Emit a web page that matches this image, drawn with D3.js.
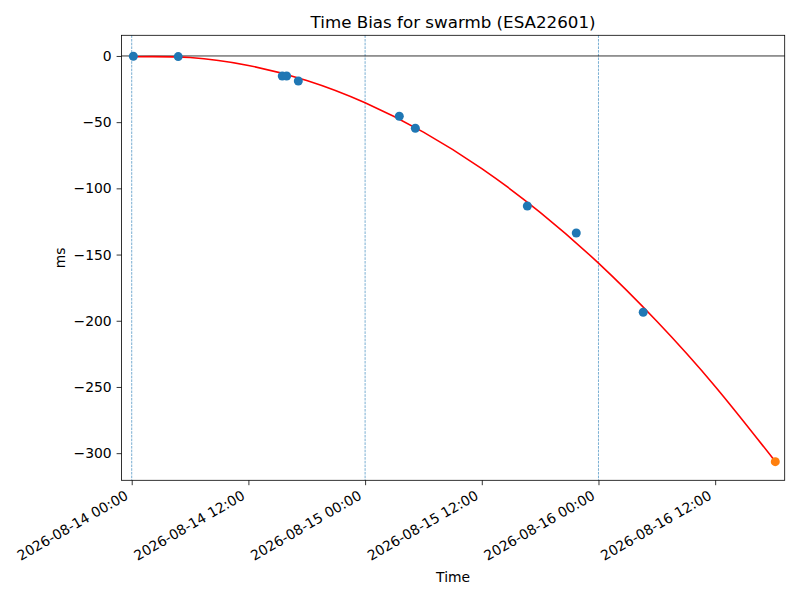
<!DOCTYPE html>
<html><head><meta charset="utf-8">
<script src="https://cdn.jsdelivr.net/npm/d3@7"></script>
<style>body{margin:0;background:#fff}svg{display:block;font-family:"DejaVu Sans",sans-serif}</style>
</head><body><svg id="c" width="800" height="600"></svg>
<script>
const title = "Time Bias for swarmb (ESA22601)";
const obsTimes = ["2026-08-14T00:10Z","2026-08-14T04:47Z","2026-08-14T15:29Z","2026-08-14T15:56Z","2026-08-14T17:08Z",
  "2026-08-15T03:31Z","2026-08-15T05:10Z","2026-08-15T16:41Z","2026-08-15T21:43Z","2026-08-16T04:36Z"];
const obsValues = [-0.2,-0.5,-15.1,-15.1,-18.9,-45.5,-54.6,-113.3,-133.7,-193.6];
const predTimes = ["2026-08-16T18:11Z"];
const predValues = [-306.4];
const fitTimes = ["2026-08-14T00:10Z","2026-08-14T06:00Z","2026-08-14T12:00Z","2026-08-14T18:00Z","2026-08-15T00:00Z",
  "2026-08-15T06:00Z","2026-08-15T12:00Z","2026-08-15T18:00Z","2026-08-16T00:00Z","2026-08-16T06:00Z","2026-08-16T12:00Z","2026-08-16T18:11Z"];
const fitValues = [-0.6,-1.2,-7.2,-18.5,-35.3,-57.5,-85.1,-118.1,-156.5,-200.4,-249.6,-306.3];
const dayLines = ["2026-08-14T00:00Z","2026-08-15T00:00Z","2026-08-16T00:00Z"];
const xTicks = ["2026-08-14T00:00Z","2026-08-14T12:00Z","2026-08-15T00:00Z","2026-08-15T12:00Z","2026-08-16T00:00Z","2026-08-16T12:00Z"];
const yTicks = [0,-50,-100,-150,-200,-250,-300];
const xDomain = ["2026-08-13T22:57Z","2026-08-16T19:09Z"];
const yDomain = [-320.5, 15.6];

const P = d3.isoParse;
const L=121.5, R=784.7, T=35.3, B=480.3;
const svg = d3.select("#c");
const x = d3.scaleUtc().domain(xDomain.map(P)).range([L,R]);
const y = d3.scaleLinear().domain(yDomain).range([B,T]);
const fmt = d3.utcFormat("%Y-%m-%d %H:%M");
const blue="#1f77b4", orange="#ff7f0e";

// day lines
svg.append("g").selectAll("line").data(dayLines).join("line")
  .attr("x1",d=>x(P(d))).attr("x2",d=>x(P(d))).attr("y1",T).attr("y2",B)
  .attr("stroke",blue).attr("stroke-width",0.6).attr("stroke-dasharray","2.6,1.1");
// zero line
svg.append("line").attr("x1",L).attr("x2",R).attr("y1",y(0)).attr("y2",y(0))
  .attr("stroke","#000").attr("stroke-width",0.8);
// fit
const fit = fitTimes.map((t,i)=>({t:P(t),v:fitValues[i]}));
svg.append("path").datum(fit).attr("fill","none").attr("stroke","red").attr("stroke-width",1.6)
  .attr("d",d3.line().x(d=>x(d.t)).y(d=>y(d.v)).curve(d3.curveNatural));
// points
svg.append("g").selectAll("circle").data(obsTimes.map((t,i)=>({t:P(t),v:obsValues[i]}))).join("circle")
  .attr("cx",d=>x(d.t)).attr("cy",d=>y(d.v)).attr("r",4.5).attr("fill",blue);
svg.append("g").selectAll("circle").data(predTimes.map((t,i)=>({t:P(t),v:predValues[i]}))).join("circle")
  .attr("cx",d=>x(d.t)).attr("cy",d=>y(d.v)).attr("r",4.5).attr("fill",orange);

// frame
svg.append("rect").attr("x",L).attr("y",T).attr("width",R-L).attr("height",B-T)
  .attr("fill","none").attr("stroke","#000").attr("stroke-width",0.8);

// x axis
const xa = svg.append("g").attr("transform",`translate(0,${B})`)
  .call(d3.axisBottom(x).tickValues(xTicks.map(P)).tickSize(4.9).tickFormat(""));
xa.select(".domain").remove();
xa.selectAll("line").attr("stroke-width",0.8);
svg.append("g").selectAll("text").data(xTicks).join("text")
  .attr("transform",d=>`translate(${x(P(d))-2.5},${B+18}) rotate(-30)`)
  .attr("text-anchor","end").attr("font-size",13.9).attr("fill","#000").text(d=>fmt(P(d)));
// y axis
const ya = svg.append("g").attr("transform",`translate(${L},0)`)
  .call(d3.axisLeft(y).tickValues(yTicks).tickSize(4.9).tickPadding(4.9).tickFormat(d=>d<0?"\u2212"+Math.abs(d):d));
ya.select(".domain").remove();
ya.selectAll("line").attr("stroke-width",0.8);
ya.selectAll("text").attr("font-size",13.9).attr("font-family","DejaVu Sans").attr("fill","#000");

// labels
svg.append("text").attr("x",(L+R)/2).attr("y",28).attr("text-anchor","middle").attr("font-size",16.7).text(title);
svg.append("text").attr("x",(L+R)/2).attr("y",582).attr("text-anchor","middle").attr("font-size",13.9).text("Time");
svg.append("text").attr("transform",`translate(65,${(T+B)/2}) rotate(-90)`).attr("text-anchor","middle").attr("font-size",13.9).text("ms");
</script></body></html>
